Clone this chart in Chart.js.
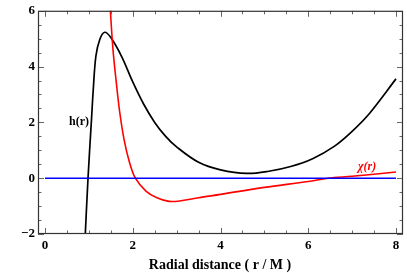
<!DOCTYPE html>
<html>
<head>
<meta charset="utf-8">
<script src="https://cdn.jsdelivr.net/npm/chart.js@4/dist/chart.umd.min.js"></script>
<style>
  html, body { margin: 0; padding: 0; background: #fff; }
  #wrap { width: 407px; height: 273px; }
</style>
</head>
<body>
<div id="wrap"><canvas id="myChart" width="407" height="273"></canvas></div>
<script>
// values
const hR = [0.90, 0.98, 1.06, 1.10, 1.16, 1.25, 1.36, 1.50, 1.75, 2.0, 2.25, 2.5, 2.75, 3.0, 3.5, 4.0, 4.6, 5.1, 5.6, 6.1, 6.6, 7.0, 7.4, 8.0];
const hVals = [-2.6, 0.0, 2.12, 3.19, 4.38, 4.98, 5.23, 5.04, 4.35, 3.45, 2.65, 2.0, 1.5, 1.12, 0.57, 0.3, 0.17, 0.25, 0.42, 0.7, 1.15, 1.68, 2.33, 3.56];

const chiR = [1.46, 1.49, 1.55, 1.62, 1.70, 1.80, 1.92, 2.06, 2.30, 2.55, 2.83, 3.1, 3.5, 4.0, 5.0, 6.0, 6.45, 7.0, 8.0];
const chiVals = [7.0, 6.0, 4.6, 3.5, 2.4, 1.4, 0.6, 0.0, -0.46, -0.7, -0.83, -0.81, -0.7, -0.58, -0.33, -0.12, 0.0, 0.07, 0.22];

const zeroR = [0, 8];
const zeroVals = [0, 0];

const xTicks = [0, 2, 4, 6, 8];
const yTicks = [-2, 0, 2, 4, 6];
const xMin = -0.16, xMax = 8.16, yMin = -2, yMax = 6;

const toPts = (xs, ys) => xs.map((x, i) => ({ x: x, y: ys[i] }));

const serif = "'Liberation Serif', 'DejaVu Serif', serif";

// frame, inward ticks and the text labels
const framePlugin = {
  id: "mathematica_frame",
  afterDatasetsDraw: (chart) => {
    const ctx = chart.ctx;
    const a = chart.chartArea;
    const xs = chart.scales.x;
    const ys = chart.scales.y;
    ctx.save();
    ctx.strokeStyle = "#666";
    ctx.lineWidth = 1;
    for (let v = 0; v <= 8.001; v += 0.5) {
      const px = Math.round(xs.getPixelForValue(v)) + 0.5;
      const len = Math.abs(v % 2) < 0.01 ? 6 : 3.5;
      ctx.beginPath();
      ctx.moveTo(px, a.bottom); ctx.lineTo(px, a.bottom - len);
      ctx.moveTo(px, a.top); ctx.lineTo(px, a.top + len);
      ctx.stroke();
    }
    for (let v = -2; v <= 6.001; v += 0.5) {
      const py = Math.round(ys.getPixelForValue(v)) + 0.5;
      const len = Math.abs(v % 2) < 0.01 ? 6 : 3.5;
      ctx.beginPath();
      ctx.moveTo(a.left, py); ctx.lineTo(a.left + len, py);
      ctx.moveTo(a.right, py); ctx.lineTo(a.right - len, py);
      ctx.stroke();
    }
    ctx.strokeStyle = "#333";
    ctx.lineWidth = 1.2;
    ctx.strokeRect(a.left + 0.5, a.top + 0.5, a.right - a.left - 1, a.bottom - a.top - 1);

    ctx.textBaseline = "middle";
    ctx.fillStyle = "#000";
    ctx.textAlign = "left";
    ctx.font = "bold 12px " + serif;
    ctx.fillText("h(r)", 69, 122);
    ctx.fillStyle = "#ff0000";
    ctx.font = "italic bold 12px " + serif;
    ctx.fillText("\u03c7(r)", 358, 167);

    ctx.fillStyle = "#000";
    ctx.textAlign = "center";
    ctx.font = "bold 14px " + serif;
    ctx.fillText("Radial distance ( r / M )", 220, 265);
    ctx.restore();
  }
};

const ctx = document.getElementById("myChart").getContext("2d");

const myChart = new Chart(ctx, {
  type: "scatter",
  data: {
    datasets: [
      {
        label: "zero",
        data: toPts(zeroR, zeroVals),
        showLine: true,
        borderColor: "#0000ff",
        borderWidth: 1.6,
        pointRadius: 0
      },
      {
        label: "chi(r)",
        data: toPts(chiR, chiVals),
        showLine: true,
        borderColor: "#ff0000",
        borderWidth: 1.6,
        pointRadius: 0,
        tension: 0.35
      },
      {
        label: "h(r)",
        data: toPts(hR, hVals),
        showLine: true,
        borderColor: "#000000",
        borderWidth: 1.7,
        pointRadius: 0,
        tension: 0.35
      }
    ]
  },
  plugins: [framePlugin],
  options: {
    responsive: false,
    animation: false,
    devicePixelRatio: 1,
    layout: { padding: { left: 0, top: 7, right: 4, bottom: 0 } },
    plugins: {
      legend: { display: false },
      tooltip: { enabled: false }
    },
    scales: {
      x: {
        type: "linear",
        min: xMin,
        max: xMax,
        afterBuildTicks: (scale) => { scale.ticks = xTicks.map((v) => ({ value: v })); },
        afterFit: (scale) => { scale.height = 39; },
        grid: { display: false, drawTicks: false },
        border: { display: false },
        ticks: {
          padding: 4,
          color: "#000",
          font: { family: serif, weight: "bold", size: 13 }
        }
      },
      y: {
        type: "linear",
        min: yMin,
        max: yMax,
        afterBuildTicks: (scale) => { scale.ticks = yTicks.map((v) => ({ value: v })); },
        afterFit: (scale) => { scale.width = 38; },
        grid: { display: false, drawTicks: false },
        border: { display: false },
        ticks: {
          padding: 3,
          color: "#000",
          font: { family: serif, weight: "bold", size: 13 },
          callback: (v) => (v < 0 ? "\u2212" + Math.abs(v) : String(v))
        }
      }
    }
  }
});
</script>
</body>
</html>
